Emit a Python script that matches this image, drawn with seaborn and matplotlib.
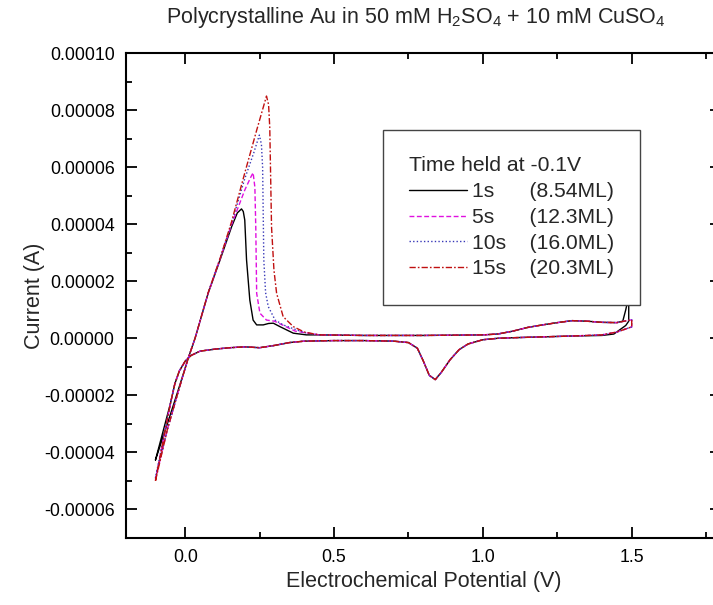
import numpy as np
import pandas as pd
import matplotlib
matplotlib.use("Agg")
import matplotlib.pyplot as plt
import seaborn as sns
from matplotlib.ticker import MultipleLocator, FormatStrFormatter

# ---------------- data (potential in V, current in units of 1e-5 A) ----------------
SCALE = 1e-5

series_names = ["1s", "5s", "10s", "15s"]
series_ml = ["(8.54ML)", "(12.3ML)", "(16.0ML)", "(20.3ML)"]

# forward (anodic) scan up to 0.45 V : Cu stripping peak
x_fwd_1s = [-0.100, -0.06, -0.02, 0.01, 0.033, 0.077, 0.117, 0.156, 0.175, 0.189, 0.195, 0.200,
            0.206, 0.217, 0.228, 0.240, 0.262, 0.280, 0.296, 0.318, 0.363, 0.407, 0.45]
y_fwd_1s = [-4.27, -3.0, -1.7, -0.7, 0.0, 1.58, 2.75, 3.92, 4.4, 4.54, 4.45, 4.15,
            2.75, 1.34, 0.64, 0.47, 0.47, 0.52, 0.53, 0.41, 0.18, 0.12, 0.12]

x_fwd_5s = [-0.100, -0.06, -0.02, 0.01, 0.033, 0.077, 0.117, 0.156, 0.200, 0.220, 0.228, 0.234,
            0.237, 0.240, 0.251, 0.273, 0.300, 0.330, 0.370, 0.45]
y_fwd_5s = [-4.95, -3.2, -1.75, -0.7, 0.0, 1.58, 2.78, 4.0, 5.2, 5.65, 5.81, 5.3,
            3.9, 1.58, 0.88, 0.64, 0.60, 0.45, 0.25, 0.12]

x_fwd_10s = [-0.100, -0.06, -0.02, 0.01, 0.033, 0.077, 0.117, 0.156, 0.200, 0.230, 0.249, 0.256,
             0.260, 0.264, 0.270, 0.279, 0.302, 0.329, 0.360, 0.400, 0.45]
y_fwd_10s = [-4.9, -3.2, -1.75, -0.7, 0.0, 1.6, 2.8, 4.05, 5.6, 6.5, 7.13, 6.8,
             6.0, 2.75, 1.6, 1.11, 0.64, 0.47, 0.35, 0.20, 0.12]

x_fwd_15s = [-0.100, -0.06, -0.02, 0.01, 0.033, 0.077, 0.117, 0.156, 0.200, 0.240, 0.273, 0.280,
             0.284, 0.290, 0.298, 0.307, 0.329, 0.363, 0.400, 0.45]
y_fwd_15s = [-5.0, -3.2, -1.75, -0.7, 0.0, 1.6, 2.8, 4.1, 5.8, 7.3, 8.5, 8.2,
             7.4, 3.9, 2.4, 1.58, 0.76, 0.41, 0.22, 0.12]

# forward scan 0.6 V -> upper vertex (Au oxidation)
x_fwd_tail = [0.6, 0.8, 1.0, 1.05, 1.1, 1.15, 1.2, 1.25, 1.3, 1.35, 1.4, 1.45]
y_fwd_tail = [0.10, 0.10, 0.12, 0.15, 0.25, 0.38, 0.47, 0.55, 0.62, 0.60, 0.56, 0.55]

# upper vertex region, per series
x_vtx_1s = [1.47, 1.475, 1.48, 1.485, 1.49, 1.49, 1.48, 1.46, 1.44, 1.40]
y_vtx_1s = [0.60, 0.80, 1.00, 1.24, 1.40, 0.60, 0.45, 0.30, 0.15, 0.10]
x_vtx_other = [1.50, 1.50, 1.45, 1.40]
y_vtx_other = [0.65, 0.40, 0.22, 0.12]

# reverse (cathodic) scan: Au oxide reduction, then Cu deposition
x_rev = [1.3, 1.2, 1.1, 1.05, 1.0, 0.95, 0.92, 0.89, 0.86, 0.84, 0.82, 0.80, 0.78, 0.75, 0.7,
         0.6, 0.5, 0.4, 0.35, 0.3, 0.25, 0.2, 0.15, 0.1, 0.05, 0.02, 0.0, -0.02, -0.035, -0.05]
y_rev = [0.08, 0.05, 0.02, 0.0, -0.05, -0.2, -0.4, -0.75, -1.2, -1.45, -1.3, -0.8, -0.35, -0.15, -0.1,
         -0.08, -0.08, -0.1, -0.15, -0.25, -0.33, -0.3, -0.33, -0.38, -0.45, -0.6, -0.8, -1.15, -1.6, -2.3]

# lower vertex current (-0.1 V)
x_end = [-0.100]
y_end_1s = [-4.27]
y_end_5s = [-4.95]
y_end_10s = [-4.9]
y_end_15s = [-5.0]

# ---------------- build table ----------------
fwd = {"1s": (x_fwd_1s, y_fwd_1s), "5s": (x_fwd_5s, y_fwd_5s),
       "10s": (x_fwd_10s, y_fwd_10s), "15s": (x_fwd_15s, y_fwd_15s)}
ends = {"1s": y_end_1s, "5s": y_end_5s, "10s": y_end_10s, "15s": y_end_15s}
rows = []
for name in series_names:
    xs = list(fwd[name][0]) + x_fwd_tail
    ys = list(fwd[name][1]) + y_fwd_tail
    if name == "1s":
        xs += x_vtx_1s
        ys += y_vtx_1s
    else:
        xs += x_vtx_other
        ys += y_vtx_other
    xs += x_rev + x_end
    ys += y_rev + ends[name]
    for i, (a, b) in enumerate(zip(xs, ys)):
        rows.append({"series": name, "order": i, "E": a, "I": b * SCALE})
df = pd.DataFrame(rows)

# ---------------- style ----------------
sns.set_theme(style="ticks")
plt.rcParams["font.family"] = ["Liberation Sans", "DejaVu Sans"]
plt.rcParams["mathtext.fontset"] = "custom"
plt.rcParams["mathtext.rm"] = "Liberation Sans"

colors = {"1s": "#000000", "5s": "#e010e0", "10s": "#3838b8", "15s": "#c01010"}
styles = {"1s": "-", "5s": (0, (3.5, 1.8)), "10s": (0, (1.0, 1.6)), "15s": (0, (4.5, 1.5, 1.2, 1.5))}

fig = plt.figure(figsize=(7.13, 6.05), dpi=100)
ax = fig.add_axes([125.7 / 713, 1 - 537.8 / 605, (721 - 125.7) / 713, (537.8 - 53.3) / 605])

for name, ml in zip(series_names, series_ml):
    sub = df[df["series"] == name].sort_values("order")
    sns.lineplot(data=sub, x="E", y="I", sort=False, estimator=None, ax=ax,
                 color=colors[name], linestyle=styles[name], linewidth=1.0,
                 label=f"{name}", legend=False)

ax.set_xlim(-0.2, 1.8)
ax.set_ylim(-7e-5, 1e-4)
ax.xaxis.set_major_locator(MultipleLocator(0.5))
ax.xaxis.set_minor_locator(MultipleLocator(0.25))
ax.yaxis.set_major_locator(MultipleLocator(2e-5))
ax.yaxis.set_minor_locator(MultipleLocator(1e-5))
ax.xaxis.set_major_formatter(FormatStrFormatter("%.1f"))
ax.yaxis.set_major_formatter(FormatStrFormatter("%.5f"))
ax.tick_params(which="both", direction="in", top=True, right=True, width=1.3, colors="black")
ax.tick_params(which="major", length=8, labelsize=12.8, pad=8)
ax.tick_params(which="minor", length=4)
for sp in ax.spines.values():
    sp.set_linewidth(1.5)
    sp.set_color("black")

ax.set_xlabel("Electrochemical Potential (V)", fontsize=15.5, labelpad=4)
ax.set_ylabel("Current (A)", fontsize=15.5, labelpad=0)
ax.yaxis.set_label_coords(-0.135, 0.5)

fig.text(0.584, 1 - 18 / 605,
         r"Polycrystalline Au in 50 mM H$_\mathregular{2}$SO$_\mathregular{4}$ + 10 mM CuSO$_\mathregular{4}$",
         ha="center", va="center", fontsize=15.5)

handles = ax.get_lines()[:4]
gap = {"1s": "      ", "5s": "      ", "10s": "    ", "15s": "    "}
labels = [f"{n}{gap[n]}{m}" for n, m in zip(series_names, series_ml)]
leg = ax.legend(handles, labels, title="Time held at -0.1V", loc="upper left",
                bbox_to_anchor=(383 / 713, 1 - 130 / 605), bbox_transform=fig.transFigure,
                fontsize=15.2, title_fontsize=15.2, frameon=True, fancybox=False,
                edgecolor="#444444", framealpha=1.0, borderpad=1.25, handlelength=2.75,
                handletextpad=0.2, labelspacing=0.32, borderaxespad=0)
leg._legend_box.align = "left"
leg.get_frame().set_linewidth(1.0)

fig.savefig("out.png", dpi=100)
